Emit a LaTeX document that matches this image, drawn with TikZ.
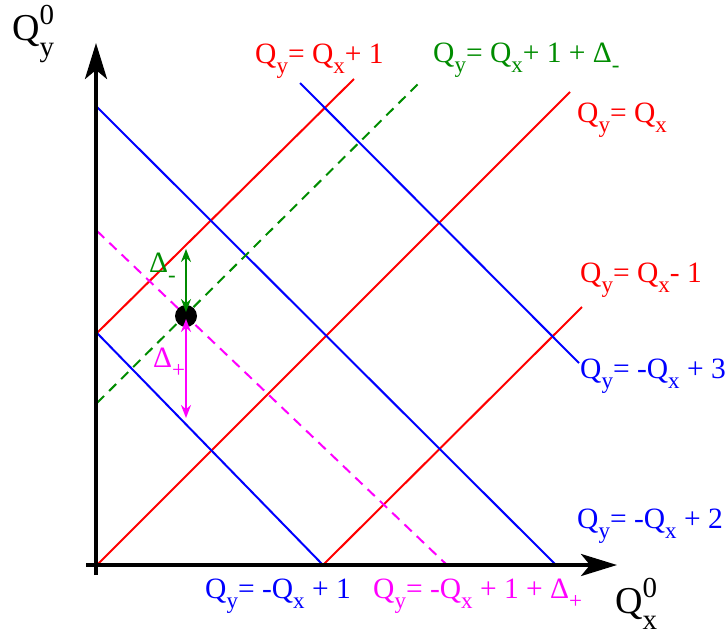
\documentclass[tikz,border=0pt]{standalone}
\usepackage{fontspec}
\setmainfont{Liberation Serif}
\newfontfamily\lserif{Liberation Serif}
\usetikzlibrary{arrows.meta}
\definecolor{fgreen}{RGB}{0,140,0}
\definecolor{fred}{RGB}{255,0,0}
\definecolor{fblue}{RGB}{0,0,255}
\definecolor{fmag}{RGB}{255,0,255}
\newcommand\qsub[1]{\raisebox{-0.36em}{\fontsize{23}{23}\selectfont #1}}
\newcommand\qsupsub[2]{\rlap{\raisebox{0.4em}{\fontsize{29}{29}\selectfont #1}}\raisebox{-0.43em}{\fontsize{29}{29}\selectfont #2}}
\tikzset{
  axisline/.style={line width=4pt, -{Stealth[length=36pt,width=22pt,inset=9pt]}},
  fline/.style={line width=2pt},
  dline/.style={line width=2pt, dash pattern=on 10pt off 7pt},
  darrow/.style={line width=2pt, {Stealth[length=13pt,width=10pt]}-{Stealth[length=13pt,width=10pt]}},
  lbl/.style={anchor=base west, inner sep=0pt, font=\lserif\fontsize{29.5}{32}\selectfont},
  axlbl/.style={anchor=base west, inner sep=0pt, font=\lserif\fontsize{38}{42}\selectfont},
}
\begin{document}
\begin{tikzpicture}[x=1pt,y=-1pt]
\useasboundingbox (0,0) rectangle (725,641);
% coordinates
\coordinate (O) at (97,565);
\coordinate (xs) at (86,565);
\coordinate (xe) at (617,565);
\coordinate (ys) at (96,575);
\coordinate (ye) at (96,43);
\coordinate (Y1) at (97,333);
\coordinate (Y2) at (97,107);
\coordinate (X1) at (323,565);
\coordinate (X2) at (556,565);
\coordinate (r0e) at (570,92);
\coordinate (r1e) at (354,79);
\coordinate (rm1e) at (582,307);
\coordinate (b3s) at (300,83);
\coordinate (b3e) at (579,363);
\coordinate (gs) at (97,403);
\coordinate (ge) at (419,83);
\coordinate (ms) at (97,231);
\coordinate (me) at (447,565);
\coordinate (gtop) at (186,249);
\coordinate (gbot) at (186,312);
\coordinate (mtop) at (186,319);
\coordinate (mbot) at (186,418);
% lines
\draw[fline, fred] (O) -- (r0e);
\draw[fline, fred] (Y1) -- (r1e);
\draw[fline, fred] (X1) -- (rm1e);
\draw[fline, fblue] (Y1) -- (X1);
\draw[fline, fblue] (Y2) -- (X2);
\draw[fline, fblue] (b3s) -- (b3e);
\draw[dline, fgreen] (gs) -- (ge);
\draw[dline, fmag] (ms) -- (me);
% axes
\draw[axisline] (xs) -- (xe);
\draw[axisline] (ys) -- (ye);
% dot and arrows
\node[circle, fill=black, minimum size=22pt, inner sep=0pt] (dot) at (186,316) {};
\draw[darrow, fgreen] (gtop) -- (gbot);
\draw[darrow, fmag] (mtop) -- (mbot);
% labels
\node[axlbl] (ly) at (12,40) {Q\qsupsub{0}{y}};
\node[axlbl] (lx) at (615,613) {Q\qsupsub{0}{x}};
\node[lbl, fred] (l1) at (255,63) {Q\qsub{y}= Q\qsub{x}+ 1};
\node[lbl, fgreen] (l2) at (433,62) {Q\qsub{y}= Q\qsub{x}+ 1 + Δ\qsub{-}};
\node[lbl, fred] (l3) at (577,122) {Q\qsub{y}= Q\qsub{x}};
\node[lbl, fred] (l4) at (580,282) {Q\qsub{y}= Q\qsub{x}- 1};
\node[lbl, fblue] (l5) at (580,378) {Q\qsub{y}= -Q\qsub{x} + 3};
\node[lbl, fblue] (l6) at (577,528) {Q\qsub{y}= -Q\qsub{x} + 2};
\node[lbl, fblue] (l7) at (205,598) {Q\qsub{y}= -Q\qsub{x} + 1};
\node[lbl, fmag] (l8) at (373,598) {Q\qsub{y}= -Q\qsub{x} + 1 + Δ\qsub{+}};
\node[lbl, fgreen] (dm) at (149,272) {Δ\qsub{-}};
\node[lbl, fmag] (dp) at (153,367) {Δ\qsub{+}};
\end{tikzpicture}
\end{document}
